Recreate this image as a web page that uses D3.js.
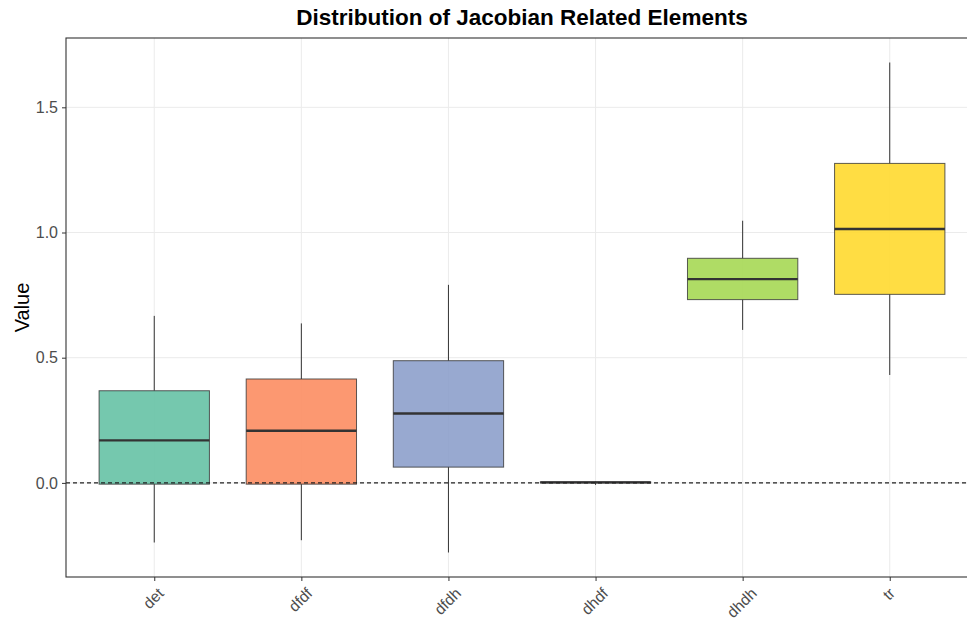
<!DOCTYPE html>
<html>
<head>
<meta charset="utf-8">
<script src="https://cdn.jsdelivr.net/npm/d3@7"></script>
<style>
  html, body { margin: 0; padding: 0; background: #ffffff; }
  svg { display: block; font-family: "Liberation Sans", Arial, sans-serif; }
</style>
</head>
<body>
<svg id="chart" width="967" height="621"></svg>
<script>
// Jacobian element distributions: five-number summaries per element
const categories   = ["det", "dfdf", "dfdh", "dhdf", "dhdh", "tr"];
const lowerWhisker = [-0.238, -0.229, -0.278, -0.008, 0.611, 0.431];
const q1           = [-0.005, -0.005, 0.063, 0.000, 0.732, 0.753];
const median       = [0.170, 0.208, 0.277, 0.002, 0.814, 1.014];
const q3           = [0.368, 0.415, 0.488, 0.004, 0.897, 1.276];
const upperWhisker = [0.667, 0.637, 0.791, 0.006, 1.047, 1.679];
const fills        = ["#66C2A5", "#FC8D62", "#8DA0CB", "#E78AC3", "#A6D854", "#FFD92F"];
const yTicks       = [0, 0.5, 1.0, 1.5];
const refLine      = 0;

const rows = categories.map((c, i) => ({
  cat: c, lo: lowerWhisker[i], q1: q1[i], med: median[i], q3: q3[i], hi: upperWhisker[i], fill: fills[i]
}));

const svg = d3.select("#chart");
const panel = { left: 66, right: 978, top: 38, bottom: 577 };

// discrete x scale with 0.6-step expansion on each side
const x = d3.scalePoint().domain(categories).range([panel.left, panel.right]).padding(0.6);
const step = x.step();
const boxW = step * 0.75;

// continuous y scale, expanded 5% beyond data
const dmin = d3.min(lowerWhisker), dmax = d3.max(upperWhisker);
const pad = (dmax - dmin) * 0.05;
const y = d3.scaleLinear().domain([dmin - pad, dmax + pad]).range([panel.bottom, panel.top]);

const pw = panel.right - panel.left, ph = panel.bottom - panel.top;

// panel background
svg.append("rect").attr("x", panel.left).attr("y", panel.top)
  .attr("width", pw).attr("height", ph).attr("fill", "#ffffff");

// grid
const grid = svg.append("g");
grid.selectAll("line.h").data(yTicks).join("line")
  .attr("x1", panel.left).attr("x2", panel.right)
  .attr("y1", d => y(d)).attr("y2", d => y(d))
  .attr("stroke", "#EBEBEB").attr("stroke-width", 1);
grid.selectAll("line.v").data(categories).join("line")
  .attr("x1", d => x(d)).attr("x2", d => x(d))
  .attr("y1", panel.top).attr("y2", panel.bottom)
  .attr("stroke", "#EBEBEB").attr("stroke-width", 1);

// boxes
const boxes = svg.append("g").selectAll("g").data(rows).join("g");
boxes.append("line")
  .attr("x1", d => x(d.cat)).attr("x2", d => x(d.cat))
  .attr("y1", d => y(d.q3)).attr("y2", d => y(d.hi))
  .attr("stroke", "#333333").attr("stroke-width", 1);
boxes.append("line")
  .attr("x1", d => x(d.cat)).attr("x2", d => x(d.cat))
  .attr("y1", d => y(d.q1)).attr("y2", d => y(d.lo))
  .attr("stroke", "#333333").attr("stroke-width", 1);
boxes.append("rect")
  .attr("x", d => x(d.cat) - boxW / 2).attr("width", boxW)
  .attr("y", d => y(d.q3)).attr("height", d => Math.max(0, y(d.q1) - y(d.q3)))
  .attr("fill", d => d.fill).attr("fill-opacity", 0.9)
  .attr("stroke", "#333333").attr("stroke-opacity", 0.8).attr("stroke-width", 1);
boxes.append("line")
  .attr("x1", d => x(d.cat) - boxW / 2).attr("x2", d => x(d.cat) + boxW / 2)
  .attr("y1", d => y(d.med)).attr("y2", d => y(d.med))
  .attr("stroke", "#333333").attr("stroke-width", 2.4);

// dashed reference line at zero
svg.append("line")
  .attr("x1", panel.left).attr("x2", panel.right)
  .attr("y1", y(refLine)).attr("y2", y(refLine))
  .attr("stroke", "#222222").attr("stroke-width", 1.1).attr("stroke-dasharray", "4,3");

// panel border
svg.append("rect").attr("x", panel.left).attr("y", panel.top)
  .attr("width", pw).attr("height", ph)
  .attr("fill", "none").attr("stroke", "#333333").attr("stroke-width", 1.1);

// y axis
const yAxis = svg.append("g").attr("transform", `translate(${panel.left},0)`)
  .call(d3.axisLeft(y).tickValues(yTicks).tickFormat(d3.format(".1f")).tickSize(4).tickPadding(4));
yAxis.select(".domain").remove();
yAxis.selectAll(".tick line").attr("stroke", "#333333");
yAxis.selectAll(".tick text").attr("fill", "#4D4D4D").style("font-size", "16px")
  .style("font-family", "'Liberation Sans', Arial, sans-serif");

// x axis
const xAxis = svg.append("g").attr("transform", `translate(0,${panel.bottom})`)
  .call(d3.axisBottom(x).tickSize(4).tickFormat(""));
xAxis.select(".domain").remove();
xAxis.selectAll(".tick line").attr("stroke", "#333333");

// rotated category labels
const xl = svg.append("g");
categories.forEach(c => {
  const t = xl.append("text")
    .attr("text-anchor", "middle").attr("dominant-baseline", "central")
    .attr("fill", "#4D4D4D").style("font-size", "15.5px")
    .style("font-family", "'Liberation Sans', Arial, sans-serif")
    .text(c);
  const L = t.node().getComputedTextLength();
  const h = 10;
  const ext = (L + h) * Math.SQRT1_2;
  t.attr("transform", `translate(${x(c) - 1},${587 + ext / 2}) rotate(-45)`);
});

// title
svg.append("text")
  .attr("x", (panel.left + panel.right) / 2).attr("y", 25)
  .attr("text-anchor", "middle").attr("fill", "#000000")
  .style("font-size", "22.5px").style("font-weight", "bold")
  .text("Distribution of Jacobian Related Elements");

// y axis title
svg.append("text")
  .attr("transform", `translate(29,${(panel.top + panel.bottom) / 2}) rotate(-90)`)
  .attr("text-anchor", "middle").attr("fill", "#000000")
  .style("font-size", "20px")
  .text("Value");
</script>
</body>
</html>
